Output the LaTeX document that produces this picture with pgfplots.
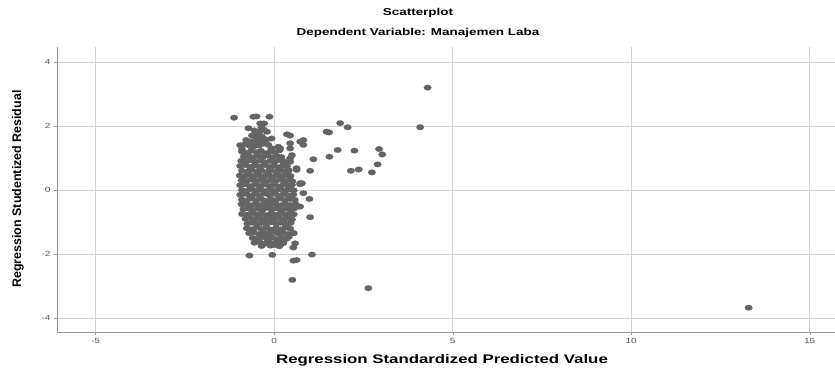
\documentclass[border=0pt]{standalone}
\usepackage{pgfplots}
\pgfplotsset{compat=1.18}
\usepackage{fontspec}
\setmainfont{Liberation Sans}
\newfontfamily\wfont[FakeStretch=1.35]{Liberation Sans}
\definecolor{mk}{RGB}{100,100,100}
\definecolor{gridc}{RGB}{212,212,212}
\definecolor{axc}{RGB}{150,150,150}
\definecolor{tickc}{RGB}{85,85,85}
\begin{document}
\begin{tikzpicture}[x=1bp,y=1bp]
\useasboundingbox (-57,-38) rectangle (778,332);
\begin{axis}[at={(0,0)}, anchor=south west, scale only axis,
  width=778bp, height=285bp,
  xmin=-6.08, xmax=15.71, ymin=-4.44, ymax=4.47,
  axis x line*=bottom, axis y line*=left,
  xtick={-5,0,5,10,15}, ytick={-4,-2,0,2,4},
  grid=major, grid style={gridc, line width=0.8bp},
  axis line style={axc, line width=0.8bp, -},
  tick style={axc}, tick align=outside, major tick length=3bp,
  ticklabel style={font=\wfont\fontsize{7.5}{8}\selectfont, text=tickc},
  /pgf/number format/assume math mode=true,
  ]
\addplot[only marks, color=mk, mark=*, mark size=2.85bp, mark options={xscale=1.35, line width=0.1bp}] coordinates {
(-0.90,1.20) (-0.77,1.16) (-0.64,1.23) (-0.50,1.18) (-0.37,1.22) (-0.24,1.15) (-0.10,1.21) (0.03,1.18) (0.15,1.24)
(-0.85,1.05) (-0.72,1.09) (-0.58,1.02) (-0.45,1.07) (-0.31,1.03) (-0.18,1.08) (-0.05,1.02) (0.08,1.06) (0.20,1.03)
(-0.92,0.91) (-0.79,0.87) (-0.65,0.93) (-0.52,0.88) (-0.38,0.92) (-0.25,0.86) (-0.11,0.91) (0.02,0.88) (0.16,0.93) (0.29,0.89)
(-0.95,0.75) (-0.82,0.78) (-0.68,0.72) (-0.55,0.77) (-0.41,0.73) (-0.28,0.78) (-0.14,0.72) (-0.01,0.76) (0.12,0.71) (0.25,0.77) (0.36,0.74)
(-0.90,0.60) (-0.76,0.57) (-0.63,0.63) (-0.49,0.58) (-0.36,0.62) (-0.22,0.56) (-0.09,0.61) (0.05,0.57) (0.18,0.63) (0.31,0.58) (0.41,0.61)
(-0.96,0.45) (-0.83,0.42) (-0.69,0.48) (-0.56,0.43) (-0.42,0.47) (-0.29,0.41) (-0.15,0.46) (-0.02,0.42) (0.12,0.48) (0.25,0.43) (0.38,0.47) (0.46,0.44)
(-0.91,0.30) (-0.77,0.27) (-0.64,0.33) (-0.50,0.28) (-0.37,0.32) (-0.23,0.26) (-0.10,0.31) (0.04,0.27) (0.17,0.33) (0.31,0.28) (0.44,0.32) (0.51,0.27)
(-0.95,0.15) (-0.82,0.18) (-0.68,0.12) (-0.55,0.17) (-0.41,0.13) (-0.28,0.18) (-0.14,0.12) (-0.01,0.16) (0.13,0.11) (0.26,0.17) (0.39,0.13) (0.50,0.16)
(-0.90,0.00) (-0.76,-0.03) (-0.63,0.03) (-0.49,-0.02) (-0.36,0.02) (-0.22,-0.04) (-0.09,0.01) (0.05,-0.03) (0.18,0.03) (0.32,-0.02) (0.45,0.02) (0.55,-0.01)
(-0.95,-0.15) (-0.82,-0.12) (-0.68,-0.18) (-0.55,-0.13) (-0.41,-0.17) (-0.28,-0.11) (-0.14,-0.16) (-0.01,-0.12) (0.13,-0.18) (0.26,-0.13) (0.40,-0.17) (0.54,-0.14)
(-0.90,-0.30) (-0.77,-0.33) (-0.63,-0.27) (-0.50,-0.32) (-0.36,-0.28) (-0.23,-0.34) (-0.09,-0.29) (0.04,-0.33) (0.18,-0.27) (0.31,-0.32) (0.45,-0.28) (0.58,-0.31)
(-0.91,-0.45) (-0.78,-0.42) (-0.64,-0.48) (-0.51,-0.43) (-0.37,-0.47) (-0.24,-0.41) (-0.10,-0.46) (0.03,-0.42) (0.17,-0.48) (0.30,-0.43) (0.44,-0.47) (0.60,-0.44)
(-0.86,-0.60) (-0.73,-0.57) (-0.59,-0.63) (-0.46,-0.58) (-0.32,-0.62) (-0.19,-0.56) (-0.05,-0.61) (0.08,-0.57) (0.22,-0.63) (0.35,-0.58) (0.49,-0.62) (0.56,-0.58)
(-0.90,-0.75) (-0.76,-0.78) (-0.63,-0.72) (-0.49,-0.77) (-0.36,-0.73) (-0.22,-0.79) (-0.09,-0.74) (0.05,-0.78) (0.18,-0.72) (0.32,-0.77) (0.45,-0.73) (0.55,-0.76)
(-0.80,-0.90) (-0.67,-0.87) (-0.53,-0.93) (-0.40,-0.88) (-0.26,-0.92) (-0.13,-0.86) (0.01,-0.91) (0.14,-0.87) (0.28,-0.93) (0.41,-0.88) (0.50,-0.92)
(-0.75,-1.05) (-0.62,-1.02) (-0.48,-1.08) (-0.35,-1.03) (-0.21,-1.07) (-0.08,-1.01) (0.06,-1.06) (0.19,-1.02) (0.33,-1.08) (0.46,-1.03)
(-0.76,-1.20) (-0.63,-1.23) (-0.49,-1.17) (-0.36,-1.22) (-0.22,-1.18) (-0.09,-1.24) (0.05,-1.19) (0.18,-1.23) (0.32,-1.17) (0.45,-1.21)
(-0.70,-1.35) (-0.57,-1.32) (-0.43,-1.38) (-0.30,-1.33) (-0.16,-1.37) (-0.03,-1.31) (0.11,-1.36) (0.24,-1.32) (0.38,-1.38) (0.55,-1.35)
(-0.60,-1.50) (-0.47,-1.53) (-0.33,-1.47) (-0.20,-1.52) (-0.06,-1.48) (0.07,-1.54) (0.21,-1.49) (0.34,-1.53) (0.41,-1.47)
(-0.55,-1.65) (-0.41,-1.62) (-0.28,-1.68) (-0.14,-1.63) (-0.01,-1.67) (0.13,-1.61) (0.26,-1.66)
(-0.35,-1.75) (-0.10,-1.74) (0.15,-1.76) (0.02,-1.72) (0.59,-1.67)
(-0.95,1.40) (-0.82,1.43) (-0.68,1.38) (-0.55,1.44) (-0.42,1.39) (-0.29,1.45) (-0.16,1.41)
(-0.78,1.56) (-0.64,1.52) (-0.50,1.58) (-0.37,1.54) (-0.22,1.57)
(-0.62,1.70) (-0.48,1.73) (-0.35,1.68) (-0.55,1.86) (-0.42,1.82) (-0.28,1.88)
(-1.12,2.26) (-0.58,2.29) (-0.49,2.30) (-0.13,2.29) (-0.39,2.08) (-0.28,2.08) (-0.72,1.93) (-0.35,1.95) (-0.20,1.82)
(-0.30,1.61) (-0.07,1.61) (0.36,1.74) (0.45,1.70) (0.82,1.56) (0.73,1.51) (0.82,1.41) (0.45,1.46)
(-0.90,1.28) (-0.58,1.35) (-0.07,1.30) (0.12,1.35) (0.17,1.30) (0.45,1.30)
(0.50,1.09) (0.45,0.99) (0.45,0.88) (0.63,0.68) (0.63,0.63) (0.73,0.18) (0.73,0.21) (-0.81,0.99)
(1.85,2.09) (2.06,1.96) (1.54,1.80) (1.47,1.82) (1.78,1.25) (2.25,1.23) (2.94,1.28) (3.03,1.11) (1.55,1.04)
(1.10,0.96) (2.90,0.80) (1.01,0.60) (2.15,0.60) (2.37,0.64) (2.74,0.55) (0.78,0.21)
(0.99,-0.28) (0.82,-0.10) (0.73,-0.52) (0.68,-0.52) (1.01,-0.85) (1.06,-2.02) (0.54,-1.80) (0.54,-1.35)
(0.54,-2.21) (0.63,-2.19) (0.51,-2.81) (-0.69,-2.05) (-0.05,-2.03)
(4.30,3.20) (4.09,1.96) (2.64,-3.07) (13.29,-3.68)
};
\end{axis}
\node[font=\wfont\bfseries\fontsize{10}{12}\selectfont] at (361,319) {Scatterplot};
\node[font=\wfont\bfseries\fontsize{10}{12}\selectfont] at (361,299) {Dependent Variable: Manajemen Laba};
\node[font=\wfont\bfseries\fontsize{12.5}{14}\selectfont] at (385,-28) {Regression Standardized Predicted Value};
\node[font=\bfseries\fontsize{12.5}{14}\selectfont, rotate=90] at (-39,143) {Regression Studentized Residual};
\end{tikzpicture}
\end{document}
